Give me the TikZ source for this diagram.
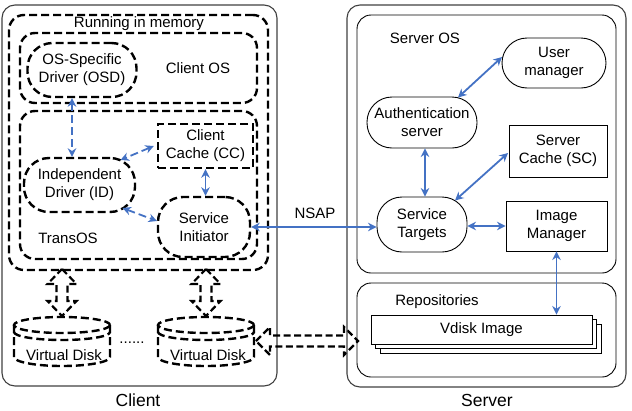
\documentclass[tikz,border=0pt]{standalone}
\usepackage{fontspec}
\setmainfont{Liberation Sans}
\usetikzlibrary{arrows.meta,calc}
\definecolor{lnblue}{HTML}{4472C4}
\begin{document}
\begin{tikzpicture}[x=1pt,y=-1pt,
  every node/.style={font=\fontsize{15}{18}\selectfont, align=center, inner sep=0pt},
  outerbox/.style={draw=black!75, line width=1.1pt, rounded corners=13pt},
  thinbox/.style={draw=black, line width=0.9pt, rounded corners=14pt},
  dsh/.style={draw=black, line width=2.4pt, dash pattern=on 8pt off 4pt},
  dbox/.style={dsh, rounded corners=15pt},
  pill/.style={dsh, rounded corners=25pt},
  spill/.style={draw=black, line width=0.9pt, rounded corners=25pt},
  srect/.style={draw=black, line width=0.9pt, fill=white},
  barrow/.style={draw=lnblue, line width=1.8pt, {Stealth[length=8.5pt,width=8.5pt]}-{Stealth[length=8.5pt,width=8.5pt]}},
  bdarrow/.style={barrow, dash pattern=on 8pt off 4pt},
  blk/.style={dsh, line width=2.2pt, dash pattern=on 7pt off 3.5pt, line join=miter}
]
\useasboundingbox (0,0) rectangle (632,410);

% ---------------- Client side ----------------
\node[outerbox, minimum width=275, minimum height=381] (client) at (139.5,195.5) {};
\node[dbox, minimum width=259, minimum height=255] (mem) at (138.5,142.5) {};
\node (memlabel) at (139,24) {Running in memory};
\node[dbox, minimum width=237, minimum height=70] (clientos) at (138.5,68) {};
\node[pill, minimum width=109, minimum height=54] (osd) at (82,70) {OS-Specific\\Driver (OSD)};
\node (clientoslabel) at (198,68) {Client OS};
\node[dbox, minimum width=237, minimum height=148] (transos) at (138.5,185) {};
\node[dsh, minimum width=95, minimum height=44] (cc) at (205.5,146) {Client\\Cache (CC)};
\node[pill, minimum width=111, minimum height=54] (id) at (79.5,185) {Independent\\Driver (ID)};
\node[pill, minimum width=92, minimum height=60] (si) at (204,227) {Service\\Initiator};
\node (transoslabel) at (68,238) {TransOS};

\draw[bdarrow] ([xshift=-10pt]osd.south) -- ([xshift=-7.5pt]id.north);
\draw[bdarrow] ([xshift=-3pt]cc.west) -- ([shift={(41,-25)}]id.center);
\draw[bdarrow] ([shift={(43,23)}]id.center) -- ([shift={(-47,-6)}]si.center);
\draw[barrow] (cc.south) -- (cc.south |- si.north);

% virtual disks
\foreach \nm/\cx in {disk1/62, disk2/206} {
  \node[minimum width=96, minimum height=50] (\nm) at (\cx,342) {};
  \draw[dsh] (\cx,325) ellipse [x radius=48, y radius=8];
  \draw[dsh] (\cx-48,325) -- (\cx-48,357) arc[start angle=180, end angle=0, x radius=48, y radius=9] -- (\cx+48,325);
  \draw[dsh] (\cx-48,332) arc[start angle=180, end angle=0, x radius=48, y radius=8];
  \node at (\cx+2,355) {Virtual Disk};
}
\node (dots) at (132,343) {......};

% vertical hollow double arrows
\foreach \cx in {62,206} {
  \draw[blk] (\cx,269) -- (\cx+14.5,284) -- (\cx+5.5,284) -- (\cx+5.5,301) -- (\cx+14.5,301)
    -- (\cx,316) -- (\cx-14.5,301) -- (\cx-5.5,301) -- (\cx-5.5,284) -- (\cx-14.5,284) -- cycle;
}
% horizontal hollow double arrow
\draw[blk] (256,341) -- (270,327) -- (270,335.5) -- (344,335.5) -- (344,327) -- (358,341)
  -- (344,355) -- (344,346.5) -- (270,346.5) -- (270,355) -- cycle;

\node (clientlabel) at (138,400) {\fontsize{17.5}{20}\selectfont Client};

% ---------------- Server side ----------------
\node[outerbox, minimum width=279, minimum height=382] (server) at (486.5,196) {};
\node[thinbox, minimum width=259, minimum height=258] (serveros) at (486.5,144) {};
\node (serveroslabel) at (425,38) {Server OS};
\node[spill, minimum width=104, minimum height=50] (um) at (554,63) {User\\manager};
\node[spill, minimum width=110, minimum height=51] (auth) at (422,122.5) {Authentication\\server};
\node[srect, minimum width=98, minimum height=52] (sc) at (558,151) {Server\\Cache (SC)};
\node[spill, minimum width=90, minimum height=55] (st) at (422,224.5) {Service\\Targets};
\node[srect, minimum width=101, minimum height=50] (im) at (556.5,226) {Image\\Manager};

\node[thinbox, minimum width=259, minimum height=94] (repo) at (486.5,330) {};
\node (repolabel) at (437,302) {Repositories};
\node[srect, minimum width=221, minimum height=29] (vd3) at (490.5,338.5) {};
\node[srect, minimum width=221, minimum height=29] (vd2) at (486,334) {};
\node[srect, minimum width=221, minimum height=29] (vdisk) at (481.5,329.5) {Vdisk Image};

\draw[barrow] ([shift={(-52,-6)}]um.center) -- ([shift={(36,-25)}]auth.center);
\draw[barrow] ([xshift=3pt]auth.south) -- ([xshift=3pt]st.north);
\draw[barrow] ([shift={(-50,2)}]sc.center) -- ([shift={(33,-24)}]st.center);
\draw[barrow] (st.east |- im.west) -- (im.west);
\draw[barrow] (im.south) -- (im.south |- vdisk.north);

% NSAP link
\draw[barrow] (si.east) -- (si.east -| st.west);
\node (nsap) at (315,213) {NSAP};

\node (serverlabel) at (487,400) {\fontsize{17.5}{20}\selectfont Server};
\end{tikzpicture}
\end{document}
